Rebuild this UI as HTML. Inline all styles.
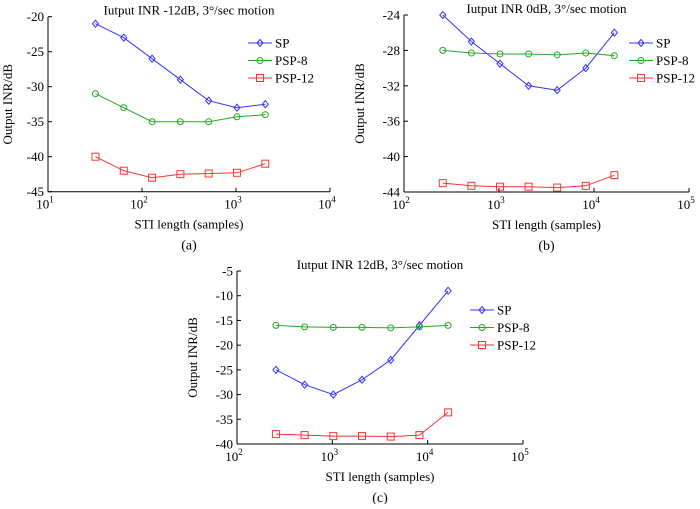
<!DOCTYPE html>
<html><head><meta charset="utf-8">
<style>
body{margin:0;background:#fff;}
svg text{font-family:"Liberation Serif",serif;fill:#000;}
</style></head>
<body>
<svg id="fig" width="700" height="504" xmlns="http://www.w3.org/2000/svg"></svg>
<script>
const xA = [32, 64, 128, 256, 512, 1024, 2048];
const spA = [-21, -23, -26, -29, -32, -33, -32.5];
const psp8A = [-31, -33, -35, -35, -35, -34.3, -34];
const psp12A = [-40, -42, -43, -42.5, -42.4, -42.3, -41];
const yTicksA = [-20, -25, -30, -35, -40, -45];

const xB = [256, 512, 1024, 2048, 4096, 8192, 16384];
const spB = [-24, -27, -29.5, -32, -32.5, -30, -26];
const psp8B = [-28, -28.3, -28.4, -28.4, -28.5, -28.3, -28.6];
const psp12B = [-43, -43.3, -43.4, -43.4, -43.5, -43.3, -42.1];
const yTicksB = [-24, -28, -32, -36, -40, -44];

const xC = [256, 512, 1024, 2048, 4096, 8192, 16384];
const spC = [-25, -28, -30, -27, -23, -16, -9];
const psp8C = [-16, -16.3, -16.4, -16.4, -16.5, -16.3, -16];
const psp12C = [-38, -38.2, -38.4, -38.4, -38.5, -38.2, -33.6];
const yTicksC = [-5, -10, -15, -20, -25, -30, -35, -40];

const NS = "http://www.w3.org/2000/svg";
const svg = document.getElementById('fig');
function mk(tag, attrs, parent, name) {
  const e = document.createElementNS(NS, tag);
  for (const k in attrs) e.setAttribute(k, attrs[k]);
  
  
  parent.appendChild(e);
  return e;
}
function marker(g, type, x, y, c, name) {
  if (type === 'd') mk('path', {d:`M${x} ${y-3.5}L${x+3} ${y}L${x} ${y+3.5}L${x-3} ${y}Z`, fill:'none', stroke:c, 'stroke-width':1}, g, name);
  else if (type === 'o') mk('circle', {cx:x, cy:y, r:3, fill:'none', stroke:c, 'stroke-width':1}, g, name);
  else mk('rect', {x:x-3.5, y:y-3.5, width:7, height:7, fill:'none', stroke:c, 'stroke-width':1}, g, name);
}
function panel(p) {
  const g = mk('g', {}, svg, 'panel-' + p.id);
  const sx = v => p.x0 + (Math.log10(v) - p.d0) / (p.d1 - p.d0) * (p.x1 - p.x0);
  const sy = v => p.yt + (p.ymax - v) / (p.ymax - p.ymin) * (p.yb - p.yt);
  mk('line', {x1:p.x0, y1:p.yt, x2:p.x0, y2:p.yb, stroke:'#000'}, g, 'y-axis');
  mk('line', {x1:p.x0, y1:p.yb, x2:p.x1, y2:p.yb, stroke:'#000'}, g, 'x-axis');
  p.yticks.forEach(t => {
    const y = sy(t);
    mk('line', {x1:p.x0, y1:y, x2:p.x0 + 4, y2:y, stroke:'#000'}, g, 'y-tick');
    const tx = mk('text', {x:p.x0 - 4, y:y + 4.5, 'text-anchor':'end', 'font-size':13}, g, 'y-tick-label');
    tx.textContent = t;
  });
  for (let d = p.d0; d <= p.d1; d++) {
    const x = sx(Math.pow(10, d));
    mk('line', {x1:x, y1:p.yb, x2:x, y2:p.yb - 4, stroke:'#000'}, g, 'x-tick');
    const tx = mk('text', {x:x - 3, y:p.yb + 17, 'text-anchor':'middle', 'font-size':13}, g, 'x-tick-label');
    tx.textContent = '10';
    const sp = mk('tspan', {dy:-6, 'font-size':9}, tx, 'x-tick-exponent');
    sp.textContent = d;
  }
  const ti = mk('text', {x:(p.x0 + p.x1) / 2, y:p.yt - 2, 'text-anchor':'middle', 'font-size':13}, g, 'chart-title');
  ti.textContent = p.title;
  const xl = mk('text', {x:(p.x0 + p.x1) / 2, y:p.yb + 37, 'text-anchor':'middle', 'font-size':13}, g, 'x-axis-title');
  xl.textContent = 'STI length (samples)';
  const yc = (p.yt + p.yb) / 2;
  const yl = mk('text', {x:p.ylx, y:yc, 'text-anchor':'middle', 'font-size':13, transform:`rotate(-90 ${p.ylx} ${yc})`}, g, 'y-axis-title');
  yl.textContent = 'Output INR/dB';
  const cap = mk('text', {x:(p.x0 + p.x1) / 2, y:p.yb + 58, 'text-anchor':'middle', 'font-size':14}, g, 'panel-caption');
  cap.textContent = '(' + p.id + ')';
  const series = [
    {n:'SP', v:p.sp, c:'#3333ff', m:'d'},
    {n:'PSP-8', v:p.p8, c:'#22aa22', m:'o'},
    {n:'PSP-12', v:p.p12, c:'#ff3333', m:'s'}
  ];
  series.forEach((s, i) => {
    const pts = p.xs.map((x, j) => sx(x) + ',' + sy(s.v[j])).join(' ');
    mk('polyline', {points:pts, fill:'none', stroke:s.c, 'stroke-width':1}, g, 'line-' + s.n.toLowerCase());
    p.xs.forEach((x, j) => marker(g, s.m, sx(x), sy(s.v[j]), s.c, 'point-' + s.n.toLowerCase()));
    const ly = p.ly + i * 17.5;
    mk('line', {x1:p.lx, y1:ly, x2:p.lx + 24, y2:ly, stroke:s.c}, g, 'legend-line');
    marker(g, s.m, p.lx + 12, ly, s.c, 'legend-marker');
    const lt = mk('text', {x:p.lx + 27, y:ly + 4.5, 'font-size':13}, g, 'legend-entry');
    lt.textContent = s.n;
  });
}
panel({id:'a', x0:48, x1:330, d0:1, d1:4, yt:16.7, yb:191.7, ymax:-20, ymin:-45, yticks:yTicksA,
  xs:xA, sp:spA, p8:psp8A, p12:psp12A, title:'Iutput INR -12dB, 3°/sec motion', ylx:12, lx:248, ly:43});
panel({id:'b', x0:404, x1:689, d0:2, d1:5, yt:15, yb:192, ymax:-24, ymin:-44, yticks:yTicksB,
  xs:xB, sp:spB, p8:psp8B, p12:psp12B, title:'Iutput INR 0dB, 3°/sec motion', ylx:364, lx:629, ly:43});
panel({id:'c', x0:237, x1:523, d0:2, d1:5, yt:271, yb:444, ymax:-5, ymin:-40, yticks:yTicksC,
  xs:xC, sp:spC, p8:psp8C, p12:psp12C, title:'Iutput INR 12dB, 3°/sec motion', ylx:197, lx:470, ly:310});
</script>
</body></html>
